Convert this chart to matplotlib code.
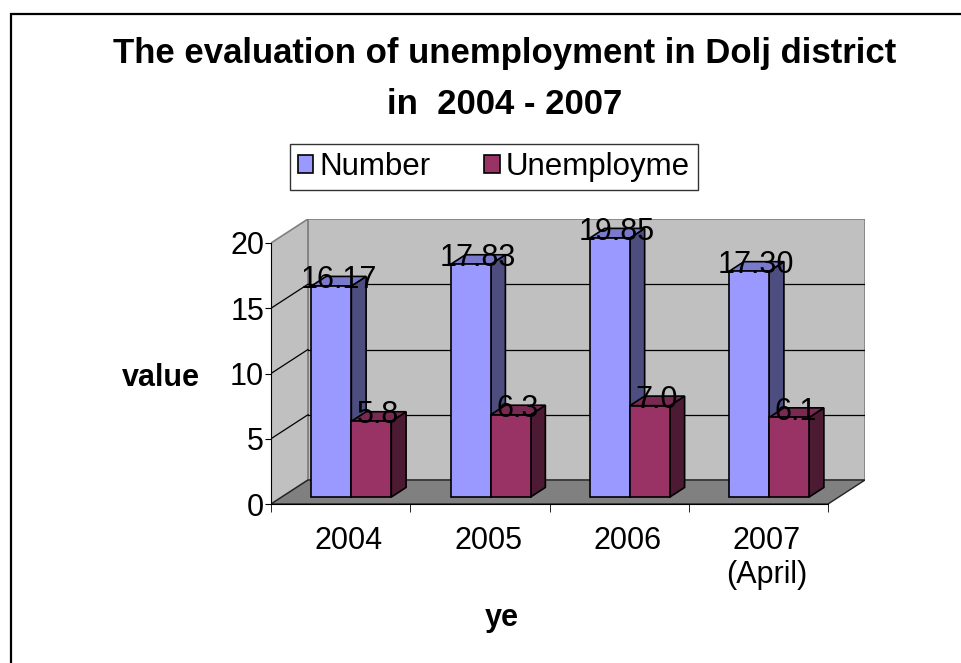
import matplotlib
matplotlib.use('Agg')
import matplotlib.pyplot as plt
import matplotlib.patches as mpatches
from matplotlib.patches import Polygon, Patch
import numpy as np

plt.rcParams['font.family'] = ['Liberation Sans', 'DejaVu Sans']

# data
years = ['2004', '2005', '2006', '2007\n(April)']
number = [16.17, 17.83, 19.85, 17.30]
unemployment = [5.8, 6.3, 7.0, 6.1]
series_names = ['Number', 'Unemployme']

# colours (front, side, top)
blue = ('#9999FF', '#4D4D80', '#7A7ACC')
red = ('#993366', '#4D1A33', '#7A2952')

W, H = 961, 663
fig = plt.figure(figsize=(W / 100, H / 100), dpi=100)

def px(x, y):
    # pixel (from top-left) -> figure fraction
    return x / W, 1 - y / H

# axes covering the front plane plus the depth offset
ax = fig.add_axes([271 / W, 159 / H, (865 - 271) / W, (504 - 219) / H])
ncat = len(years)
DX = 37 / 139.5      # depth offset in category units
DY = 24 / 13.05      # depth offset in value units
ymax = 20
ax.set_xlim(0, ncat + DX)
ax.set_ylim(0, ymax + DY)
ax.patch.set_alpha(0)

# walls and floor
ax.add_patch(Polygon([(DX, DY), (ncat + DX, DY), (ncat + DX, ymax + DY), (DX, ymax + DY)],
                     closed=True, facecolor='#C0C0C0', edgecolor='#808080', lw=1.2, zorder=1))
ax.add_patch(Polygon([(0, 0), (DX, DY), (DX, ymax + DY), (0, ymax)],
                     closed=True, facecolor='#C0C0C0', edgecolor='#808080', lw=1.2, zorder=1))
ax.add_patch(Polygon([(0, 0), (ncat, 0), (ncat + DX, DY), (DX, DY)],
                     closed=True, facecolor='#808080', edgecolor='#222222', lw=1.0, zorder=1))

yt = np.arange(0, ymax + 1, 5)
for v in yt[1:-1]:
    ax.plot([DX, ncat + DX], [v + DY, v + DY], color='black', lw=0.9, zorder=2)
    ax.plot([0, DX], [v, v + DY], color='black', lw=0.9, zorder=2)

# bars
t0, d = 0.29, 0.40
w = 0.287
gap = (1 - 2 * w) / 2
for i in range(ncat):
    for s, (vals, col, fmt) in enumerate([(number, blue, '{:.2f}'), (unemployment, red, '{:.1f}')]):
        v = vals[i]
        x0 = i + gap + s * w + t0 * DX
        y0 = t0 * DY
        x1 = x0 + w
        top = y0 + v
        ax.add_patch(Polygon([(x1, y0), (x1 + d * DX, y0 + d * DY), (x1 + d * DX, top + d * DY), (x1, top)],
                             closed=True, facecolor=col[1], edgecolor='black', lw=1.2, zorder=3))
        ax.add_patch(Polygon([(x0, top), (x1, top), (x1 + d * DX, top + d * DY), (x0 + d * DX, top + d * DY)],
                             closed=True, facecolor=col[2], edgecolor='black', lw=1.2, zorder=3))
        ax.add_patch(Polygon([(x0, y0), (x1, y0), (x1, top), (x0, top)],
                             closed=True, facecolor=col[0], edgecolor='black', lw=1.2, zorder=3))
        ax.text(x0 + w / 2 + 0.05, top + 0.45, fmt.format(v),
                ha='center', va='center', fontsize=22, zorder=10)

# axes
for side in ['top', 'right']:
    ax.spines[side].set_visible(False)
ax.spines['left'].set_bounds(0, ymax)
ax.spines['bottom'].set_bounds(0, ncat)
ax.spines['left'].set_zorder(5)
ax.spines['bottom'].set_zorder(5)
ax.set_yticks(yt)
ax.set_yticklabels([str(int(v)) for v in yt])
ax.tick_params(axis='y', direction='out', length=4, pad=1, labelsize=22)
ax.set_xticks(np.arange(ncat) + 0.5 + 0.06)
ax.set_xticklabels(years, fontsize=22, linespacing=1.15)
ax.set_xticks(np.arange(ncat + 1), minor=True)
ax.tick_params(axis='x', which='major', length=0, pad=16)
ax.tick_params(axis='x', which='minor', direction='out', length=6)

# labels and title
fig.text(*px(161, 378), 'value', fontsize=22, fontweight='bold', ha='center', va='center')
fig.text(*px(502, 618), 'ye', fontsize=22, fontweight='bold', ha='center', va='center')
fig.text(*px(505, 54), 'The evaluation of unemployment in Dolj district',
         fontsize=25, fontweight='bold', ha='center', va='center')
fig.text(*px(505, 104), 'in  2004 - 2007', fontsize=25, fontweight='bold', ha='center', va='center')

# legend
handles = [Patch(facecolor=blue[0], edgecolor='black', lw=1.2),
           Patch(facecolor=red[0], edgecolor='black', lw=1.2)]
leg = fig.legend(handles, series_names, loc='upper left', bbox_to_anchor=px(290, 144),
                 ncol=2, fontsize=22.5, frameon=True, fancybox=False, edgecolor='black',
                 handlelength=0.5, handleheight=0.5, handletextpad=0.2, columnspacing=1.7,
                 borderpad=0.25, borderaxespad=0)
leg.get_frame().set_linewidth(1.0)

# chart border (left and top edge visible)
fig.add_artist(mpatches.Rectangle(px(11, 700), 2, (700 - 14) / H, transform=fig.transFigure,
                                  fill=False, edgecolor='black', lw=1.6))

fig.savefig('out.png', dpi=100)
